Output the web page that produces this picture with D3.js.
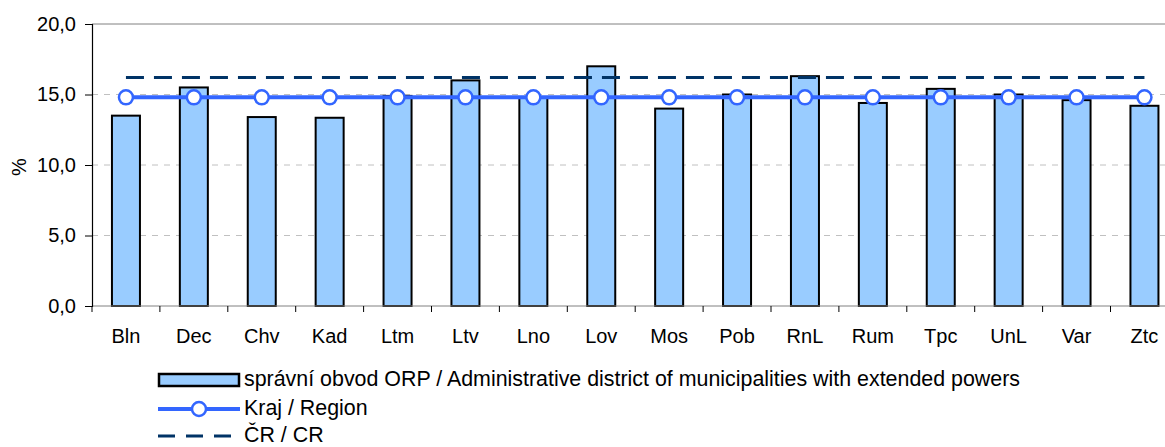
<!DOCTYPE html>
<html>
<head>
<meta charset="utf-8">
<script src="https://cdn.jsdelivr.net/npm/d3@7"></script>
<style>
  body { margin: 0; background: #fff; }
  svg { display: block; font-family: Arial, "Liberation Sans", sans-serif; }
</style>
</head>
<body>
<div id="chart-area"></div>
<script>
// data
const categories = ["Bln", "Dec", "Chv", "Kad", "Ltm", "Ltv", "Lno", "Lov", "Mos", "Pob", "RnL", "Rum", "Tpc", "UnL", "Var", "Ztc"];
const orpValues = [13.5, 15.5, 13.4, 13.35, 14.9, 16.0, 14.8, 17.0, 14.0, 15.0, 16.3, 14.4, 15.4, 15.0, 14.6, 14.2];
const regionValue = 14.8;
const crValue = 16.2;
const yTicks = [0, 5, 10, 15, 20];
const legendLabels = [
    "správní obvod ORP / Administrative district of municipalities with extended powers",
    "Kraj / Region",
    "ČR / CR"
];

const width = 1165, height = 447;
const margin = { top: 24, left: 92, bottom: 306 };
const step = 67.9;

const svg = d3.select("#chart-area").append("svg")
    .attr("width", width)
    .attr("height", height);

// scales
const x = d3.scaleBand()
    .domain(categories)
    .range([margin.left, margin.left + step * categories.length])
    .padding(0);

const y = d3.scaleLinear()
    .domain([0, 20])
    .range([margin.bottom, margin.top]);

const barW = 28;
const cx = d => x(d) + x.bandwidth() / 2;
const fmt = v => d3.format(".1f")(v).replace(".", ",");

// gridlines
svg.append("g")
    .selectAll("line")
    .data(yTicks.filter(t => t > 0 && t < 20))
    .enter().append("line")
    .attr("x1", margin.left).attr("x2", width)
    .attr("y1", d => y(d)).attr("y2", d => y(d))
    .attr("stroke", "#c0c0c0")
    .attr("stroke-width", 1)
    .attr("stroke-dasharray", "6,6");

// top border of plot area
svg.append("line")
    .attr("x1", margin.left).attr("x2", width)
    .attr("y1", y(20)).attr("y2", y(20))
    .attr("stroke", "#808080");

// bars
svg.append("g")
    .selectAll("rect")
    .data(categories)
    .enter().append("rect")
    .attr("x", d => cx(d) - barW / 2)
    .attr("y", (d, i) => y(orpValues[i]))
    .attr("width", barW)
    .attr("height", (d, i) => y(0) - y(orpValues[i]))
    .attr("fill", "#99ccff")
    .attr("stroke", "#000")
    .attr("stroke-width", 2);

// x axis line + ticks at band borders
svg.append("line")
    .attr("x1", margin.left).attr("x2", width)
    .attr("y1", y(0)).attr("y2", y(0))
    .attr("stroke", "#808080");

svg.append("g")
    .selectAll("line")
    .data(categories)
    .enter().append("line")
    .attr("x1", d => x(d)).attr("x2", d => x(d))
    .attr("y1", y(0)).attr("y2", y(0) + 6)
    .attr("stroke", "#000");

svg.append("g")
    .selectAll("text")
    .data(categories)
    .enter().append("text")
    .attr("x", d => cx(d))
    .attr("y", y(0) + 37)
    .attr("text-anchor", "middle")
    .attr("font-size", 20)
    .attr("fill", "#000")
    .text(d => d);

// y axis
const yAxis = svg.append("g")
    .attr("transform", `translate(${margin.left},0)`)
    .call(d3.axisLeft(y).tickValues(yTicks).tickSize(7).tickPadding(9).tickFormat(fmt));
yAxis.select(".domain").attr("stroke", "#000").attr("stroke-width", 1.2);
yAxis.selectAll(".tick line").attr("stroke", "#000");
yAxis.selectAll("text").attr("font-size", 20).attr("font-family", "Arial, 'Liberation Sans', sans-serif").attr("fill", "#000");

svg.append("text")
    .attr("transform", `translate(26,${(y(0) + y(20)) / 2 + 2}) rotate(-90)`)
    .attr("text-anchor", "middle")
    .attr("font-size", 20)
    .text("%");

// CR dashed line
const first = categories[0], last = categories[categories.length - 1];
svg.append("line")
    .attr("x1", cx(first)).attr("x2", cx(last))
    .attr("y1", y(crValue)).attr("y2", y(crValue))
    .attr("stroke", "#003366")
    .attr("stroke-width", 3)
    .attr("stroke-dasharray", "18,10");

// region line with markers
svg.append("line")
    .attr("x1", cx(first)).attr("x2", cx(last))
    .attr("y1", y(regionValue)).attr("y2", y(regionValue))
    .attr("stroke", "#3366ff")
    .attr("stroke-width", 4);

svg.append("g")
    .selectAll("circle")
    .data(categories)
    .enter().append("circle")
    .attr("cx", d => cx(d))
    .attr("cy", y(regionValue))
    .attr("r", 7)
    .attr("fill", "#fff")
    .attr("stroke", "#3366ff")
    .attr("stroke-width", 2.5);

// legend
const lg = svg.append("g").attr("transform", "translate(158,0)");
const rows = [380, 409, 436];

lg.append("rect")
    .attr("x", 1).attr("y", rows[0] - 6)
    .attr("width", 80).attr("height", 12)
    .attr("fill", "#99ccff").attr("stroke", "#000").attr("stroke-width", 2.5);

lg.append("line")
    .attr("x1", 0).attr("x2", 82)
    .attr("y1", rows[1]).attr("y2", rows[1])
    .attr("stroke", "#3366ff").attr("stroke-width", 4);
lg.append("circle")
    .attr("cx", 41).attr("cy", rows[1]).attr("r", 7)
    .attr("fill", "#fff").attr("stroke", "#3366ff").attr("stroke-width", 2.5);

lg.append("line")
    .attr("x1", 0).attr("x2", 82)
    .attr("y1", rows[2]).attr("y2", rows[2])
    .attr("stroke", "#003366").attr("stroke-width", 3)
    .attr("stroke-dasharray", "17,11");

lg.selectAll("text.leg")
    .data(legendLabels)
    .enter().append("text")
    .attr("class", "leg")
    .attr("x", 86)
    .attr("y", (d, i) => rows[i] + 6)
    .attr("font-size", 21.4)
    .text(d => d);
</script>
</body>
</html>
